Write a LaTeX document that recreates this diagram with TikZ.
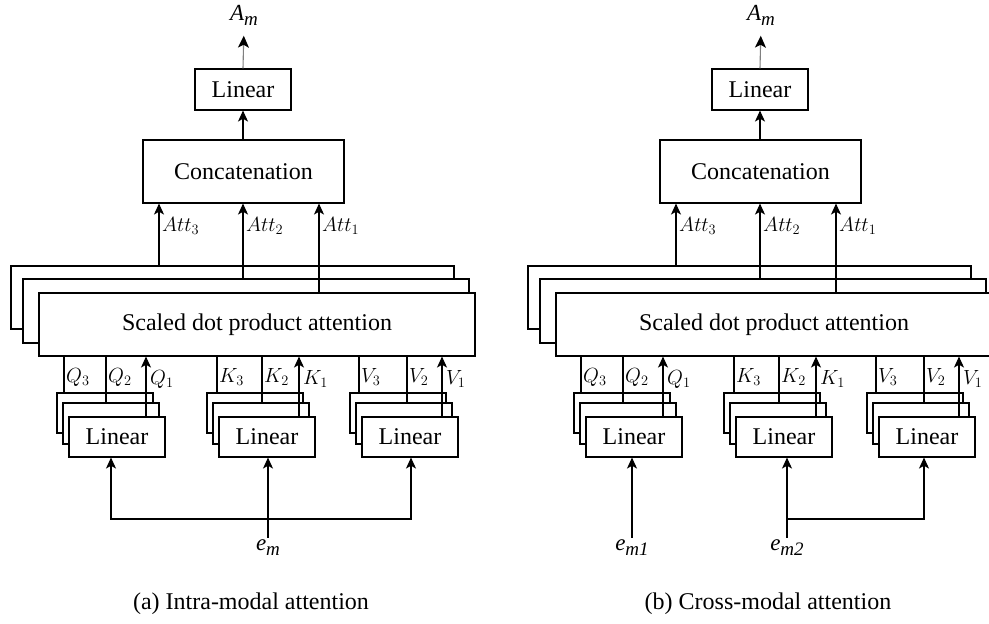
\RequirePackage{fix-cm}
\documentclass[tikz,border=0pt]{standalone}
\usepackage{fontspec}
\setmainfont{Liberation Serif}
\usetikzlibrary{arrows.meta}

% lowered italic subscript for the serif variable labels
\newcommand\lowsub[1]{\raisebox{-0.24em}{\fontsize{19}{19}\selectfont\itshape #1}}

\tikzset{
  wire/.style={line width=1.1pt, draw=black},
  arr/.style={wire, -{Stealth[length=11pt,width=10pt,inset=2.8pt]}},
  greyarr/.style={line width=1.1pt, draw=black!50,
    -{Stealth[length=12pt,width=11pt,inset=3pt,color=black,fill=black]}},
  blkstyle/.style={draw, line width=1.1pt, fill=white, inner sep=0pt,
    font=\fontsize{24}{28}\selectfont},
  mlabel/.style={inner sep=0pt, anchor=west, font=\fontsize{20.5}{24}\selectfont},
  varlabel/.style={inner sep=0pt, anchor=base, font=\fontsize{23}{26}\selectfont\itshape},
  caption/.style={inner sep=0pt, font=\fontsize{24}{28}\selectfont},
}

% box given by its corners: name, x1, y1, x2, y2, text
\newcommand\blk[6]{%
  \node[blkstyle, minimum width={((#4)-(#2))*1pt}, minimum height={((#5)-(#3))*1pt}]
    (#1) at ({((#2)+(#4))/2},{((#3)+(#5))/2}) {#6};}

% the multi-head attention block shared by both panels
\newcommand\attpanel{%
  \node[varlabel] (out) at (244,20) {A\lowsub{m}};
  \blk{lin}{195}{69}{291}{110}{Linear}
  \blk{cat}{143}{140}{344}{203}{Concatenation}
  \blk{sdA}{11}{266}{454}{329}{}
  \blk{sdB}{23}{279}{469}{343}{}
  \blk{sdC}{39}{293}{475}{356}{Scaled dot product attention}
  \draw[greyarr, shorten >=10pt] (lin.north) -- (out.south);
  \draw[arr] (cat.north -| lin.south) -- (lin.south);
  \foreach \x/\b/\i in {159/sdA/3, 243/sdB/2, 319/sdC/1} {
    \draw[arr] (\b.north -| \x,0) -- (cat.south -| \x,0);
    \node[mlabel] at (\x+3,226) {$Att_{\i}$};
  }
  \foreach \n/\dx/\la/\lb/\lc/\L in
      {q/0/64/106/146/Q, k/150/217/262/299/K, v/293/359/407/442/V} {
    \blk{\n A}{57+\dx}{393}{153+\dx}{433}{}
    \blk{\n B}{63+\dx}{403}{159+\dx}{444}{}
    \blk{\n C}{69+\dx}{417}{165+\dx}{457}{Linear}
    \draw[wire] (\n A.north -| \la,0) -- (sdC.south -| \la,0);
    \draw[wire] (\n B.north -| \lb,0) -- (sdC.south -| \lb,0);
    \draw[arr]  (\n C.north -| \lc,0) -- (sdC.south -| \lc,0);
    \node[mlabel] at (\la+2,377) {$\L_3$};
    \node[mlabel] at (\lb+2,377) {$\L_2$};
    \node[mlabel] at (\lc+4,379) {$\L_1$};
  }
}

\begin{document}
\begin{tikzpicture}[x=1pt,y=-1pt]
  \useasboundingbox (0,0) rectangle (989,624);

  % (a) intra-modal attention
  \attpanel
  \node[varlabel] (em) at (268,550) {e\lowsub{m}};
  \coordinate (jl) at (111,519);
  \coordinate (jr) at (411,519);
  \draw[arr, shorten <=1pt] (em.north) -- (em.north |- kC.south);
  \draw[arr] (jr) -- (jl) -- (jl |- qC.south);
  \draw[arr] (jl) -- (jr) -- (jr |- vC.south);
  \node[caption] (capa) at (251,604) {(a) Intra-modal attention};

  % (b) cross-modal attention
  \begin{scope}[xshift=517pt, name prefix=b-]
    \attpanel
  \end{scope}
  \node[varlabel] (em1) at (632,550) {e\lowsub{m1}};
  \node[varlabel] (em2) at (787,550) {e\lowsub{m2}};
  \coordinate (jb) at (787,519);
  \coordinate (jbr) at (924,519);
  \draw[arr, shorten <=1pt] (em1.north) -- (em1.north |- b-qC.south);
  \draw[arr, shorten <=1pt] (em2.north) -- (em2.north |- b-kC.south);
  \draw[arr] (jb) -- (jbr) -- (jbr |- b-vC.south);
  \node[caption] (capb) at (768,604) {(b) Cross-modal attention};
\end{tikzpicture}
\end{document}
